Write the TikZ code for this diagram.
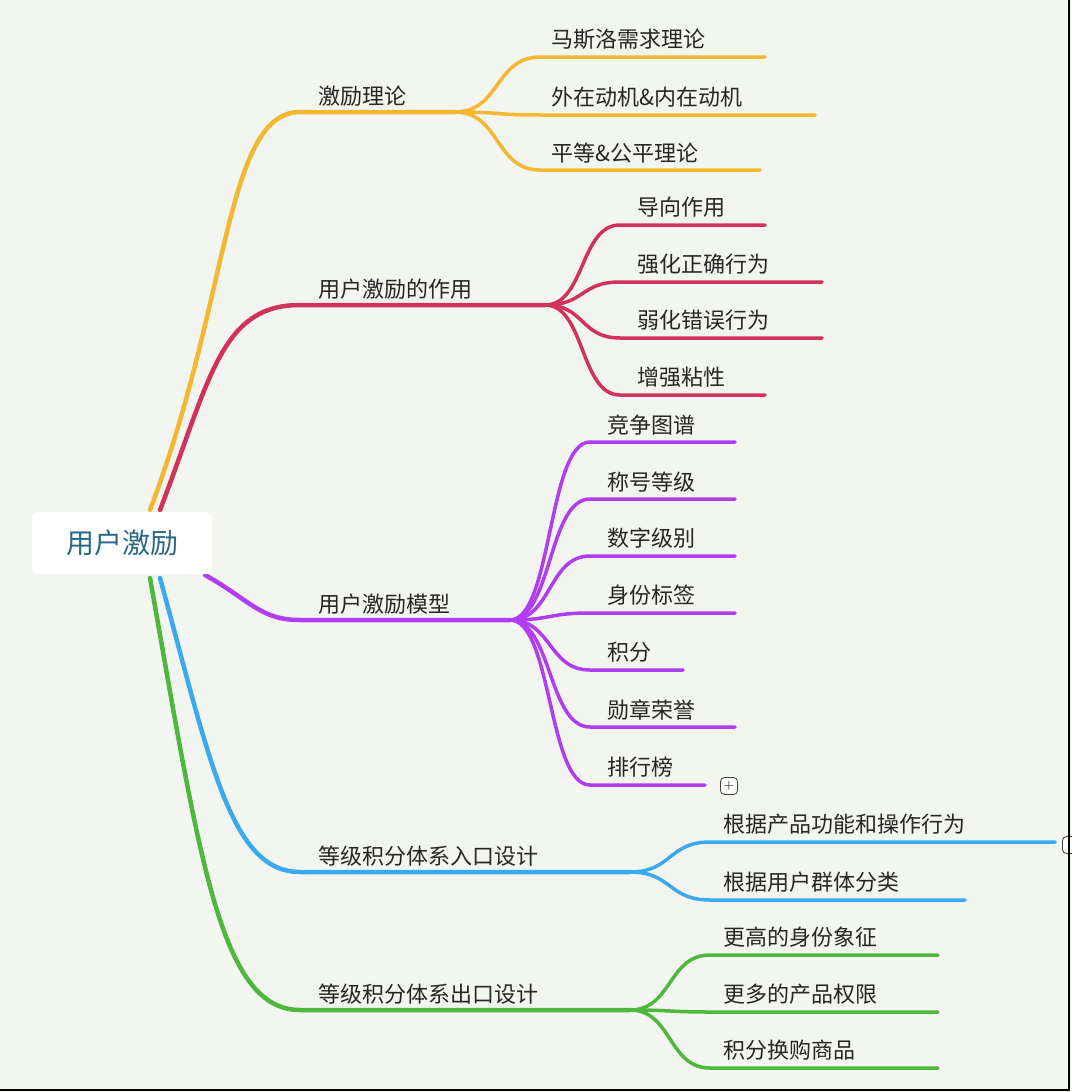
\documentclass[tikz,border=0pt]{standalone}
\usepackage{fontspec}
\newfontfamily\cjk{Noto Sans CJK SC}
\usetikzlibrary{calc}
\begin{document}
\begin{tikzpicture}[x=1pt,y=-1pt,
  lbl/.style={anchor=south west,font=\cjk\fontsize{22}{24}\selectfont,text=black!85,inner sep=0pt},
  br/.style={line width=4.5pt,line cap=round},
  sb/.style={line width=3.5pt,line cap=round},
  pc/.style={rectangle,rounded corners=4pt,draw=black!75,line width=0.8pt,fill=white,inner sep=0pt,minimum size=17pt,font=\fontsize{15}{15}\selectfont}]
\definecolor{cy}{HTML}{F4B731}\definecolor{cr}{HTML}{D2325A}\definecolor{cp}{HTML}{B03DEF}
\definecolor{cb}{HTML}{3BA9F0}\definecolor{cg}{HTML}{4DB83B}
\fill[fill={rgb,255:red,243;green,245;blue,241}] (0,0) rectangle (1071,1092);
\useasboundingbox (0,0) rectangle (1071,1092);
% main branch curves
\coordinate (ry) at (150,510);\coordinate (rr) at (160,510);\coordinate (rp) at (205,575);
\coordinate (rb) at (160,578);\coordinate (rg) at (150,578);
\coordinate (ya) at (300,112);\coordinate (yb) at (455,112);
\coordinate (ra) at (300,305);\coordinate (rb2) at (545,305);
\coordinate (pa) at (300,620);\coordinate (pb) at (510,620);
\coordinate (ba) at (300,872);\coordinate (bb) at (630,872);
\coordinate (ga) at (300,1010);\coordinate (gb) at (630,1010);
\draw[br,cy] (ry) .. controls (230,300) and (225,112) .. (ya) -- (yb);
\draw[br,cr] (rr) .. controls (210,380) and (220,305) .. (ra) -- (rb2);
\draw[br,cp] (rp) .. controls (250,600) and (260,620) .. (pa) -- (pb);
\draw[br,cb] (rb) .. controls (210,760) and (230,872) .. (ba) -- (bb);
\draw[br,cg] (rg) .. controls (200,860) and (220,1010) .. (ga) -- (gb);
% root
\node[fill=white,rounded corners=6pt,minimum width=180pt,minimum height=62pt,
  text={rgb,255:red,40;green,105;blue,135},font=\cjk\fontsize{28}{30}\selectfont] (root) at (122,543) {用户激励};
\node[lbl] (yt) at (318,107) {激励理论};
\node[lbl] (rt) at (318,300) {用户激励的作用};
\node[lbl] (pt) at (318,615) {用户激励模型};
\node[lbl] (bt) at (318,867) {等级积分体系入口设计};
\node[lbl] (gt) at (318,1005) {等级积分体系出口设计};
\foreach \n/\y/\xe/\t in {1/57/765/马斯洛需求理论,2/115/815/外在动机\&内在动机,3/170/760/平等\&公平理论}{
  \coordinate (y\n a) at (540,\y); \coordinate (y\n b) at (\xe,\y);
  \draw[sb,cy] (yb) .. controls (500,112) and (495,\y) .. (y\n a) -- (y\n b);
  \node[lbl] (y\n t) at (551,\y-7) {\t};}
\foreach \n/\y/\xe/\t in {1/225/765/导向作用,2/282/822/强化正确行为,3/338/822/弱化错误行为,4/395/765/增强粘性}{
  \coordinate (r\n a) at (620,\y); \coordinate (r\n b) at (\xe,\y);
  \draw[sb,cr] (rb2) .. controls (585,305) and (580,\y) .. (r\n a) -- (r\n b);
  \node[lbl] (r\n t) at (637,\y-7) {\t};}
\foreach \n/\y/\xe/\t in {1/442/735/竞争图谱,2/499/735/称号等级,3/556/735/数字级别,4/613/735/身份标签,5/670/683/积分,6/727/735/勋章荣誉,7/785/705/排行榜}{
  \coordinate (p\n a) at (590,\y); \coordinate (p\n b) at (\xe,\y);
  \draw[sb,cp] (pb) .. controls (552,620) and (548,\y) .. (p\n a) -- (p\n b);
  \node[lbl] (p\n t) at (607,\y-7) {\t};}
\node[pc] (pplus) at (729,786) {+};
\foreach \n/\y/\xe/\t in {1/842/1055/根据产品功能和操作行为,2/900/965/根据用户群体分类}{
  \coordinate (b\n a) at (710,\y); \coordinate (b\n b) at (\xe,\y);
  \draw[sb,cb] (bb) .. controls (672,872) and (668,\y) .. (b\n a) -- (b\n b);
  \node[lbl] (b\n t) at (723,\y-7) {\t};}
\node[pc] (bplus) at (1071,845) {};
\foreach \n/\y/\xe/\t in {1/955/938/更高的身份象征,2/1012/938/更多的产品权限,3/1068/938/积分换购商品}{
  \coordinate (g\n a) at (710,\y); \coordinate (g\n b) at (\xe,\y);
  \draw[sb,cg] (gb) .. controls (672,1010) and (668,\y) .. (g\n a) -- (g\n b);
  \node[lbl] (g\n t) at (723,\y-7) {\t};}
\draw[line width=2pt] (1069,0) -- (1069,1090) -- (0,1090);
\end{tikzpicture}
\end{document}
